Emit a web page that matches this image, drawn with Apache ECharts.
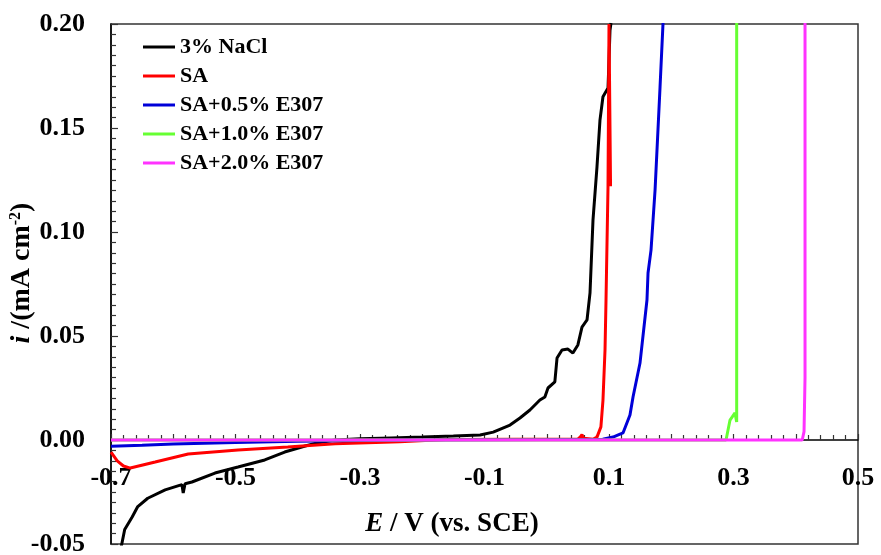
<!DOCTYPE html>
<html>
<head>
<meta charset="utf-8">
<script src="https://cdn.jsdelivr.net/npm/echarts@6/dist/echarts.min.js"></script>
<style>
  html, body { margin: 0; padding: 0; background: #fff; }
  #chart { width: 881px; height: 555px; }
</style>
</head>
<body>
<div id="chart"></div>
<script>
// 图例名称
var seriesNames = ['3% NaCl', 'SA', 'SA+0.5% E307', 'SA+1.0% E307', 'SA+2.0% E307'];
var seriesColors = ['#000000', '#ff0000', '#0000d8', '#66ff33', '#ff33ff'];

// [E (V vs SCE), i (mA cm-2)]
var nacl = [
    [-0.684, -0.052], [-0.678, -0.043], [-0.666, -0.037], [-0.657, -0.032], [-0.641, -0.028],
    [-0.613, -0.024], [-0.590, -0.0218], [-0.586, -0.0215], [-0.584, -0.0255], [-0.581, -0.021],
    [-0.570, -0.0202], [-0.533, -0.0159], [-0.496, -0.013], [-0.453, -0.0096], [-0.421, -0.0058],
    [-0.388, -0.0029], [-0.369, -0.0014], [-0.340, 0.0], [-0.300, 0.0006], [-0.250, 0.001],
    [-0.200, 0.0014], [-0.150, 0.0019], [-0.107, 0.0024], [-0.086, 0.0038], [-0.059, 0.0072],
    [-0.043, 0.0106], [-0.027, 0.0144], [-0.011, 0.0192], [-0.003, 0.0207], [0.002, 0.025],
    [0.013, 0.0279], [0.0165, 0.0394], [0.0245, 0.0433], [0.034, 0.0437], [0.042, 0.0418],
    [0.050, 0.0457], [0.0566, 0.0543], [0.0647, 0.0577], [0.0695, 0.0707], [0.0743, 0.1058],
    [0.0807, 0.1313], [0.0855, 0.1538], [0.0903, 0.165], [0.0984, 0.1692], [0.100, 0.1827],
    [0.1016, 0.197], [0.1032, 0.2005]
];
var sa = [
    [-0.700, -0.0058], [-0.690, -0.010], [-0.680, -0.0125], [-0.669, -0.0135], [-0.629, -0.0106],
    [-0.576, -0.0067], [-0.496, -0.0048], [-0.416, -0.0034], [-0.340, -0.0018], [-0.236, -0.0008],
    [-0.155, 0.0003], [-0.050, 0.0004], [0.050, 0.0004], [0.054, 0.0015], [0.0566, 0.0026],
    [0.059, 0.0008], [0.075, 0.0004], [0.0807, 0.0014], [0.087, 0.0063], [0.0903, 0.019],
    [0.0936, 0.0433], [0.0952, 0.0673], [0.0984, 0.1216], [0.100, 0.200], [0.1025, 0.2005],
    [0.1025, 0.122]
];
var sa05 = [
    [-0.700, -0.003], [-0.650, -0.0025], [-0.600, -0.0019], [-0.500, -0.0012], [-0.400, -0.0006],
    [-0.300, -0.0002], [-0.200, 0.0], [0.000, 0.0002], [0.090, 0.0004], [0.1064, 0.0014],
    [0.1225, 0.0034], [0.1337, 0.012], [0.1386, 0.0207], [0.1498, 0.037], [0.161, 0.0673],
    [0.1627, 0.0803], [0.1675, 0.0913], [0.174, 0.1202], [0.182, 0.1697], [0.1868, 0.2005]
];
var sa10 = [
    [-0.700, 0.0], [0.288, 0.0], [0.2944, 0.0096], [0.3024, 0.013], [0.3051, 0.0087],
    [0.3051, 0.030], [0.3051, 0.2005]
];
var sa20 = [
    [-0.700, 0.0], [0.4104, 0.0], [0.4133, 0.004], [0.4149, 0.030], [0.4149, 0.2005]
];
var seriesData = [nacl, sa, sa05, sa10, sa20];

var xMin = -0.7, xMax = 0.5, xStep = 0.1;
var yMin = -0.05, yMax = 0.2, yStep = 0.05;

var font = 'Liberation Serif';
var chart = echarts.init(document.getElementById('chart'));

var series = [];
for (var k = 0; k < seriesData.length; k++) {
    series.push({
        name: seriesNames[k],
        type: 'line',
        xAxisIndex: 0,
        data: seriesData[k],
        symbol: 'none',
        clip: true,
        lineStyle: { color: seriesColors[k], width: 3 },
        itemStyle: { color: seriesColors[k] }
    });
}

// 只显示 -0.7, -0.5 ... 0.5
function oddTenth(v) {
    var n = Math.round(v * 10);
    return Math.abs(n) % 2 === 1 ? v.toFixed(1) : '';
}

option = {
    backgroundColor: '#fff',
    animation: false,
    grid: {
        left: 111, right: 23, top: 24, bottom: 11,
        outerBoundsMode: 'none',
        containLabel: false,
        show: true, borderColor: '#333', borderWidth: 1.5
    },
    legend: {
        orient: 'vertical',
        left: 138, top: 31,
        icon: 'rect',
        itemWidth: 32, itemHeight: 3, itemGap: 7,
        textStyle: { fontFamily: font, fontWeight: 'bold', fontSize: 22, color: '#000' },
        data: seriesNames
    },
    xAxis: [
        {
            type: 'value',
            min: xMin, max: xMax, interval: xStep,
            axisLine: { onZero: true, lineStyle: { color: '#000', width: 1.5 } },
            axisTick: { inside: true, length: 6, lineStyle: { color: '#333', width: 1.2 } },
            minorTick: { show: true, splitNumber: 5, length: 5, lineStyle: { color: '#333', width: 1.2 } },
            splitLine: { show: false },
            axisLabel: { show: false }
        },
        {
            // 刻度标签放在零线下方
            type: 'value',
            position: 'bottom',
            offset: -104,
            min: xMin, max: xMax, interval: xStep,
            axisLine: { show: false, onZero: false },
            axisTick: { show: false },
            splitLine: { show: false },
            axisLabel: {
                margin: 25,
                fontFamily: font, fontWeight: 'bold', fontSize: 26, color: '#000',
                formatter: oddTenth
            }
        }
    ],
    yAxis: {
        type: 'value',
        min: yMin, max: yMax, interval: yStep,
        axisLine: { onZero: false, lineStyle: { color: '#000', width: 1.5 } },
        axisTick: { inside: true, length: 7, lineStyle: { color: '#333', width: 1.2 } },
        minorTick: { show: true, splitNumber: 10, length: 5, lineStyle: { color: '#333', width: 1.2 } },
        splitLine: { show: false },
        axisLabel: {
            margin: 26,
            fontFamily: font, fontWeight: 'bold', fontSize: 26, color: '#000',
            formatter: function (v) { return v.toFixed(2); }
        }
    },
    graphic: [
        {
            type: 'text', x: 452, y: 524,
            style: {
                text: '{e|E} / V (vs. SCE)',
                fontFamily: font, fontWeight: 'bold', fontSize: 27, fill: '#000',
                align: 'center', verticalAlign: 'middle',
                rich: { e: { fontFamily: font, fontWeight: 'bold', fontStyle: 'italic', fontSize: 27 } }
            }
        },
        {
            type: 'text', x: 22, y: 273, rotation: Math.PI / 2,
            style: {
                text: '{i|i} /(mA cm{s|-2})',
                fontFamily: font, fontWeight: 'bold', fontSize: 28, fill: '#000',
                align: 'center', verticalAlign: 'middle',
                rich: {
                    i: { fontFamily: font, fontWeight: 'bold', fontStyle: 'italic', fontSize: 28 },
                    s: { fontFamily: font, fontWeight: 'bold', fontSize: 16, verticalAlign: 'top', padding: [0, 0, 12, 0] }
                }
            }
        }
    ],
    series: series
};
chart.setOption(option);
</script>
</body>
</html>
